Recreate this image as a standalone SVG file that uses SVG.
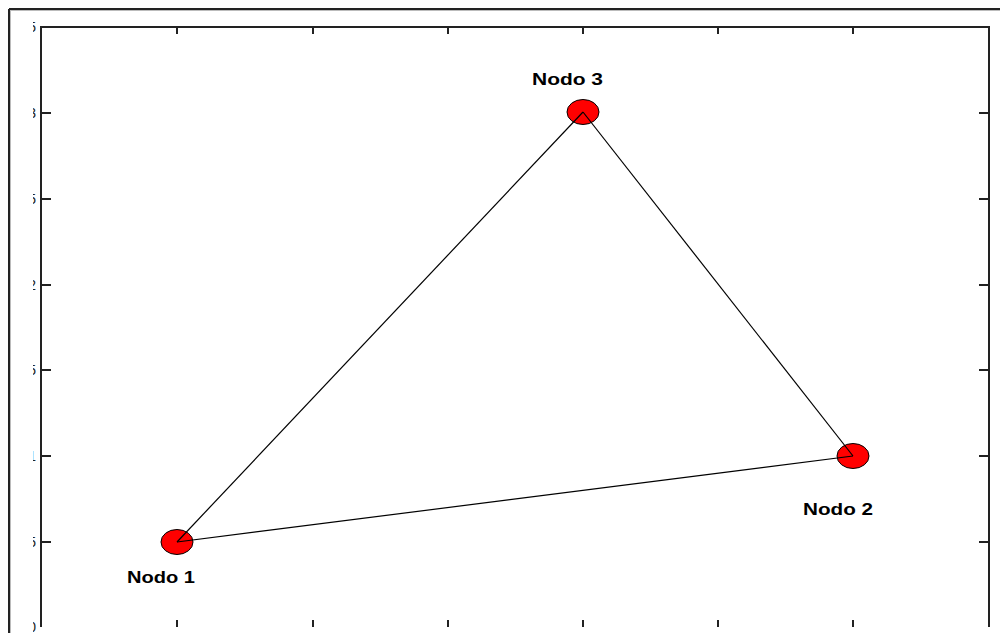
<svg xmlns="http://www.w3.org/2000/svg" width="1000" height="633" viewBox="0 0 1000 633">
<style>
.frame{stroke:#222;stroke-width:2;fill:none}
.frame2{stroke:#bbb;stroke-width:1;fill:none}
.axis{stroke:#222;stroke-width:2;fill:none}
.tick{stroke:#222;stroke-width:2}
.edge{stroke:#000;stroke-width:1.2;fill:none}
.node{fill:#ff0000;stroke:#000;stroke-width:1}
.lbl{font-family:"Liberation Sans",Arial,sans-serif;font-size:16px;font-weight:bold;fill:#000}
.tl{font-family:"Liberation Sans",Arial,sans-serif;font-size:14px;fill:#222;text-anchor:end}
</style>
<defs>
<clipPath id="tc"><rect x="33" y="0" width="10" height="633"/></clipPath>
</defs>
<rect width="1000" height="633" fill="#fff"/>
<g id="frame">
<line class="frame" x1="9" y1="9" x2="1000" y2="9"/>
<line class="frame2" x1="10" y1="10.5" x2="1000" y2="10.5"/>
<line class="frame" x1="9" y1="9" x2="9" y2="633"/>
<line class="frame2" x1="10.5" y1="10" x2="10.5" y2="633"/>
</g>
<g id="axes">
<polyline class="axis" points="41,627 41,27 989,27 989,627"/>
<g class="tick">
<line x1="41" y1="113" x2="51" y2="113"/><line x1="41" y1="199" x2="51" y2="199"/>
<line x1="41" y1="285" x2="51" y2="285"/><line x1="41" y1="370" x2="51" y2="370"/>
<line x1="41" y1="456" x2="51" y2="456"/><line x1="41" y1="542" x2="51" y2="542"/>
<line x1="979" y1="113" x2="989" y2="113"/><line x1="979" y1="199" x2="989" y2="199"/>
<line x1="979" y1="285" x2="989" y2="285"/><line x1="979" y1="370" x2="989" y2="370"/>
<line x1="979" y1="456" x2="989" y2="456"/><line x1="979" y1="542" x2="989" y2="542"/>
<line x1="177" y1="27" x2="177" y2="34"/><line x1="313" y1="27" x2="313" y2="34"/>
<line x1="448" y1="27" x2="448" y2="34"/><line x1="583" y1="27" x2="583" y2="34"/>
<line x1="718" y1="27" x2="718" y2="34"/><line x1="853" y1="27" x2="853" y2="34"/>
<line x1="177" y1="620" x2="177" y2="627"/><line x1="313" y1="620" x2="313" y2="627"/>
<line x1="448" y1="620" x2="448" y2="627"/><line x1="583" y1="620" x2="583" y2="627"/>
<line x1="718" y1="620" x2="718" y2="627"/><line x1="853" y1="620" x2="853" y2="627"/>
</g>
<g clip-path="url(#tc)">
<text class="tl" x="36" y="32">3.5</text>
<text class="tl" x="36" y="118">3</text>
<text class="tl" x="36" y="204">2.5</text>
<text class="tl" x="36" y="290">2</text>
<text class="tl" x="36" y="375">1.5</text>
<text class="tl" x="36" y="461">1</text>
<text class="tl" x="36" y="547">0.5</text>
<text class="tl" x="36" y="632">0</text>
</g>
</g>
<g id="node1">
<ellipse class="node" cx="177" cy="542" rx="16" ry="12.5"/>
<text class="lbl" x="127" y="583" textLength="68" lengthAdjust="spacingAndGlyphs">Nodo 1</text>
</g>
<g id="node2">
<ellipse class="node" cx="853" cy="456" rx="16" ry="12.5"/>
<text class="lbl" x="803" y="515" textLength="70" lengthAdjust="spacingAndGlyphs">Nodo 2</text>
</g>
<g id="node3">
<ellipse class="node" cx="583" cy="112" rx="16" ry="12.5"/>
<text class="lbl" x="532" y="85" textLength="71" lengthAdjust="spacingAndGlyphs">Nodo 3</text>
</g>
<g id="connectors">
<line class="edge" x1="177" y1="542" x2="583" y2="112"/>
<line class="edge" x1="583" y1="112" x2="853" y2="456"/>
<line class="edge" x1="177" y1="542" x2="853" y2="456"/>
</g>
</svg>
